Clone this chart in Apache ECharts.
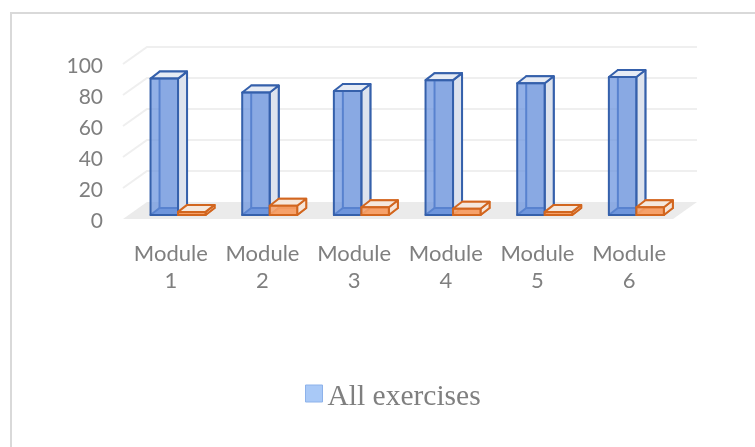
<!DOCTYPE html>
<html>
<head>
<meta charset="utf-8">
<style>html,body{margin:0;padding:0;background:#fff}#chart{width:755px;height:447px}</style>
<script src="https://cdn.jsdelivr.net/npm/echarts@6/dist/echarts.min.js"></script>
</head>
<body>
<div id="chart"></div>
<script>
const categories = ['Module 1', 'Module 2', 'Module 3', 'Module 4', 'Module 5', 'Module 6'];
const allExercises = [88, 79, 80, 87, 85, 89];
const secondSeries = [2, 6, 5, 4, 2, 5];
const wallTicks = [20, 40, 60, 80, 100];

// Oblique projection of the box scene
const wallDepth = [24, -17];
const boxDepth = [9, -7];
const boxLift = [0, -4];

const poly = (points, style) => ({ type: 'polygon', shape: { points }, style });

function renderBox(palette, offset, width) {
  return function (params, api) {
    const base = api.coord([api.value(0), 0]);
    const h = api.size([0, api.value(1)])[1];
    const x0 = base[0] + offset;
    const x1 = x0 + width;
    const y0 = base[1] + boxLift[1];
    const y1 = y0 - h;
    const dx = boxDepth[0], dy = boxDepth[1];
    const edge = { stroke: palette.edge, lineWidth: 2, lineJoin: 'round' };
    const faint = { stroke: palette.innerEdge, lineWidth: 2, lineJoin: 'round' };
    return {
      type: 'group',
      children: [
        poly([[x0 + dx, y0 + dy], [x1 + dx, y0 + dy], [x1 + dx, y1 + dy], [x0 + dx, y1 + dy]], { fill: palette.back, ...faint }),
        poly([[x0, y0], [x1, y0], [x1 + dx, y0 + dy], [x0 + dx, y0 + dy]], { fill: palette.floor, ...faint }),
        poly([[x1, y0], [x1 + dx, y0 + dy], [x1 + dx, y1 + dy], [x1, y1]], { fill: palette.side, ...edge }),
        poly([[x0, y1], [x1, y1], [x1 + dx, y1 + dy], [x0 + dx, y1 + dy]], { fill: palette.top, ...edge }),
        poly([[x0, y0], [x1, y0], [x1, y1], [x0, y1]], { fill: palette.front, ...edge })
      ]
    };
  };
}

const bluePalette = {
  edge: '#3560ab', innerEdge: '#2f5ca8', back: '#dfe4ef', floor: '#7f9fd8',
  side: '#dde3ee', top: '#e6ebf4', front: 'rgba(104,146,222,0.72)'
};
const orangePalette = {
  edge: '#d2661f', innerEdge: '#dc7a38', back: '#f6ece4', floor: '#f3a673',
  side: '#f6e4d7', top: '#f5e8dd', front: 'rgba(246,160,105,0.85)'
};

const chart = echarts.init(document.getElementById('chart'));
chart.setOption({
  animation: false,
  backgroundColor: '#fff',
  textStyle: { fontFamily: 'Lato' },
  graphic: [{
    type: 'polyline',
    shape: { points: [[11, 447], [11, 13], [755, 13]] },
    style: { stroke: '#d9d9d9', lineWidth: 2, fill: 'none' },
    silent: true
  }],
  grid: { left: 125, right: 80, top: 64, bottom: 228 },
  legend: {
    left: 305, top: 382, padding: 0, itemWidth: 17, itemHeight: 17, itemGap: 4,
    data: [{
      name: 'All exercises', icon: 'rect',
      itemStyle: { color: '#a9c9f7', borderColor: '#8db2ea', borderWidth: 1 }
    }],
    formatter: name => `{t|${name}}`,
    textStyle: {
      rich: {
        t: { fontFamily: 'Liberation Serif', fontSize: 29.5, color: '#7f7f7f', padding: [7, 0, 0, 0] }
      }
    }
  },
  xAxis: {
    type: 'category', data: categories,
    axisLine: { show: false }, axisTick: { show: false }, splitLine: { show: false },
    axisLabel: {
      interval: 0, margin: 21, fontSize: 22, lineHeight: 27, color: '#7f7f7f',
      formatter: v => v.replace(' ', '\n')
    }
  },
  yAxis: {
    type: 'value', min: 0, max: 100, interval: 20,
    axisLine: { show: false }, axisTick: { show: false }, splitLine: { show: false },
    axisLabel: {
      margin: 22,
      formatter: v => `{v|${v}}`,
      rich: { v: { fontSize: 21, fontFamily: 'Lato', color: '#7f7f7f', padding: [5, 0, 0, 0] } }
    }
  },
  series: [
    {
      // Floor of the plot box
      type: 'custom', name: 'Floor', silent: true, clip: false, z: 1,
      data: [[0]],
      encode: { x: -1, y: 0 },
      renderItem(params) {
        const r = params.coordSys;
        const left = r.x - 2, right = r.x + r.width - 2;
        const y = r.y + r.height;
        return poly([[left, y], [right, y], [right + wallDepth[0], y + wallDepth[1]], [left + wallDepth[0], y + wallDepth[1]]], { fill: '#ebebeb' });
      }
    },
    {
      // Gridlines running along the side and back walls
      type: 'custom', name: 'Walls', silent: true, clip: false, z: 1,
      data: wallTicks.map(v => [v]),
      encode: { x: -1, y: 0 },
      renderItem(params, api) {
        const r = params.coordSys;
        const y = api.coord([0, api.value(0)])[1];
        const left = r.x - 2, right = r.x + r.width - 2;
        return {
          type: 'polyline',
          shape: { points: [[left, y], [left + wallDepth[0], y + wallDepth[1]], [right + wallDepth[0], y + wallDepth[1]]] },
          style: { stroke: '#efefef', lineWidth: 2, fill: 'none' }
        };
      }
    },
    {
      type: 'custom', name: 'All exercises', clip: false, z: 2,
      data: allExercises.map((v, i) => [i, v]),
      encode: { x: 0, y: 1 },
      renderItem: renderBox(bluePalette, -20.3, 27.5)
    },
    {
      type: 'custom', name: 'Second series', clip: false, z: 3,
      data: secondSeries.map((v, i) => [i, v]),
      encode: { x: 0, y: 1 },
      renderItem: renderBox(orangePalette, 7.2, 27.5)
    }
  ]
});
</script>
</body>
</html>
